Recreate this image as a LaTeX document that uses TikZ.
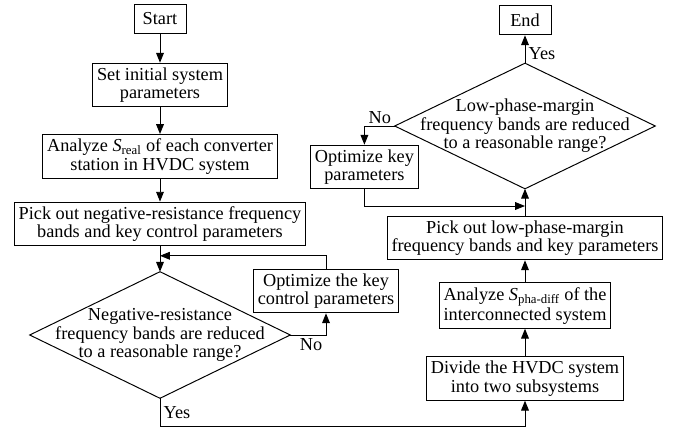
\documentclass[tikz,border=0pt]{standalone}
\usepackage{fontspec}
\setmainfont{Liberation Serif}
\usetikzlibrary{arrows.meta, calc}

\begin{document}
\begin{tikzpicture}[
    box/.style={rectangle, draw, line width=0.7pt, inner xsep=3pt, inner ysep=3pt, align=center, font=\fontsize{13}{13.2}\selectfont},
    term/.style={box, minimum width=1.3cm, minimum height=0.74cm},
    decision/.style={rectangle, minimum width=6.5cm, minimum height=3.15cm, inner sep=0pt, align=center, font=\fontsize{13}{13.2}\selectfont},
    lbl/.style={inner sep=1pt, font=\fontsize{13}{13.2}\selectfont},
    arrow/.style={-{Triangle[length=7pt, width=5.5pt]}, line width=0.7pt}
]
    \useasboundingbox (0,0) rectangle (16.975,-10.75);

    % Left column: checking negative resistance
    \node[term] (start) at (4.0,-0.475) {Start};
    \node[box] (init) at (4.0,-2.125) {Set initial system\\parameters};
    \node[box] (sreal) at (4.0,-3.91) {Analyze \textit{S}\textsubscript{real} of each converter\\station in HVDC system};
    \node[box] (pickneg) at (4.0,-5.6) {Pick out negative-resistance frequency\\bands and key control parameters};
    \node[decision] (negok) at (4.0,-8.375) {Negative-resistance\\frequency bands are reduced\\to a reasonable range?};
    \draw[line width=0.7pt] (negok.north) -- (negok.east) -- (negok.south) -- (negok.west) -- cycle;
    \node[box] (optctrl) at (8.15,-7.275) {Optimize the key\\control parameters};

    % Right column: checking phase margin
    \node[term] (finish) at (13.125,-0.5) {End};
    \node[decision, minimum height=3.125cm] (lpmok) at (13.125,-3.15) {Low-phase-margin\\frequency bands are reduced\\to a reasonable range?};
    \draw[line width=0.7pt] (lpmok.north) -- (lpmok.east) -- (lpmok.south) -- (lpmok.west) -- cycle;
    \node[box] (optkey) at (9.11,-4.175) {Optimize key\\parameters};
    \node[box] (picklpm) at (13.125,-5.95) {Pick out low-phase-margin\\frequency bands and key parameters};
    \node[box] (spha) at (13.125,-7.64) {Analyze \textit{S}\textsubscript{pha-diff} of the\\interconnected system};
    \node[box] (divide) at (13.125,-9.46) {Divide the HVDC system\\into two subsystems};

    % Merge points of the feedback loops
    \coordinate (negjoin) at ($(pickneg.south)!0.37!(negok.north)$);
    \coordinate (lpmjoin) at ($(picklpm.north)!0.36!(lpmok.south)$);

    % Main flow
    \draw[arrow] (start) -- (init);
    \draw[arrow] (init) -- (sreal);
    \draw[arrow] (sreal) -- (pickneg);
    \draw[arrow] (pickneg) -- (negok.north);
    \draw[arrow] (negok.east) -| (optctrl.south);
    \draw[arrow] (optctrl.north) |- (negjoin);
    \draw[arrow] (negok.south) -- ++(0,-0.7) -| (divide.south);
    \draw[arrow] (divide) -- (spha);
    \draw[arrow] (spha) -- (picklpm);
    \draw[arrow] (picklpm) -- (lpmok.south);
    \draw[arrow] (lpmok.north) -- (finish);
    \draw[arrow] (lpmok.west) -| (optkey.north);
    \draw[arrow] (optkey.south) |- (lpmjoin);

    % Branch labels
    \node[lbl, anchor=north west] (negno) at ($(negok.east)+(0.2,-0.05)$) {No};
    \node[lbl, anchor=west] (negyes) at ($(negok.south)+(0.05,-0.35)$) {Yes};
    \node[lbl, anchor=west] (lpmyes) at ($(lpmok.north)+(0.05,0.25)$) {Yes};
    \node[lbl, anchor=south east] (lpmno) at ($(lpmok.west)+(-0.05,0.02)$) {No};
\end{tikzpicture}
\end{document}
